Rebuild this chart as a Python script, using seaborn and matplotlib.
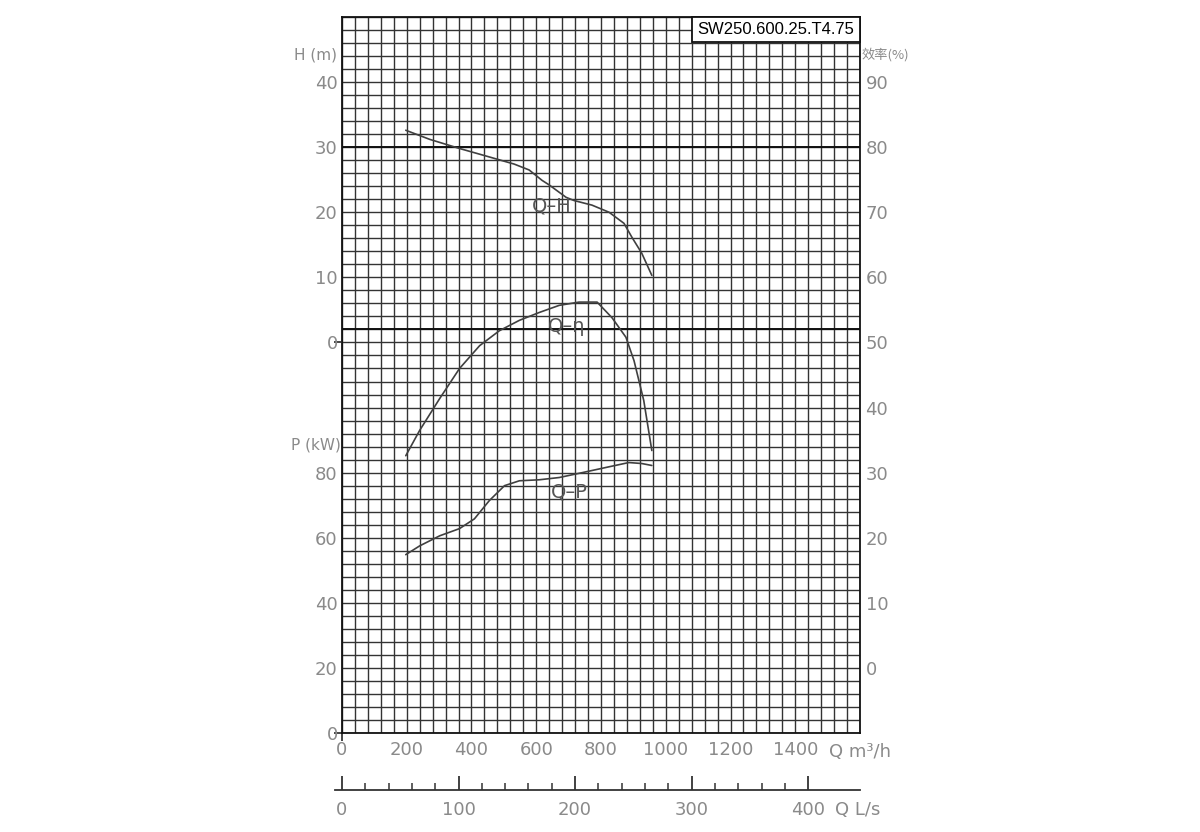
import numpy as np
import matplotlib
matplotlib.use('Agg')
import matplotlib.pyplot as plt
from matplotlib.patches import Rectangle
import seaborn as sns

# pump curve data (Q in m3/h)
flow_h = [197, 271, 363, 455, 532, 578, 618, 640, 692, 717, 772, 825, 871, 895, 926, 957]
head_m = [32.6, 31.2, 29.8, 28.5, 27.4, 26.5, 24.9, 24.2, 22.3, 21.8, 21.1, 20.0, 18.3, 16.2, 13.7, 10.3]

flow_eta = [197, 240, 302, 363, 425, 486, 548, 609, 671, 732, 788, 834, 877, 902, 932, 957]
eff_pct = [32.6, 36.5, 41.4, 46.0, 49.5, 51.8, 53.4, 54.6, 55.7, 56.2, 56.2, 53.8, 50.8, 47.2, 41.1, 33.4]

flow_p = [197, 240, 302, 363, 409, 455, 502, 548, 609, 671, 742, 825, 886, 926, 957]
power_kw = [54.8, 57.5, 60.6, 62.8, 65.8, 71.4, 76.0, 77.5, 77.8, 78.5, 80.0, 81.8, 83.1, 82.8, 82.2]

q_ticks = [0, 200, 400, 600, 800, 1000, 1200, 1400]
h_ticks = [0, 10, 20, 30, 40]
p_ticks = [0, 20, 40, 60, 80]
eta_ticks = [0, 10, 20, 30, 40, 50, 60, 70, 80, 90]
ls_ticks = [0, 100, 200, 300, 400]
model_name = 'SW250.600.25.T4.75'

sns.set_style('white')
plt.rcParams['font.family'] = ['DejaVu Sans', 'Noto Sans CJK SC']

label_grey = '#8a8a8a'
curve_col = '#404040'
grid_col = '#333333'

fig = plt.figure(figsize=(12, 8.32), dpi=100)
W, H = 1200, 832
ax = fig.add_axes([342 / W, (H - 733) / H, 518 / W, 716 / H])

# base axis = power, 0..220 kW (55 cells of 4 kW)
ax.set_xlim(0, 1600)
ax.set_ylim(0, 220)
ax.set_xticks(q_ticks)
ax.set_xticks(np.arange(0, 1601, 40), minor=True)
ax.set_yticks(p_ticks)
ax.set_yticks(np.arange(0, 221, 4), minor=True)
ax.grid(which='both', color=grid_col, lw=1.0)
ax.axhline(180, color='#111', lw=1.4)
ax.axhline(124, color='#111', lw=1.4)
for s in ax.spines.values():
    s.set_color('#111')
    s.set_linewidth(1.3)
ax.tick_params(which='both', length=0, left=True, bottom=True)
ax.tick_params(axis='y', labelsize=13, labelcolor=label_grey, pad=3)
ax.tick_params(axis='x', labelsize=13, labelcolor=label_grey, pad=6)

# head axis shares the left side, 0 m sits at 120 on the base scale
axh = ax.twinx()
axh.set_ylim(-60, 50)
axh.set_yticks(h_ticks)
axh.yaxis.set_ticks_position('left')
axh.tick_params(axis='y', length=0, labelsize=13, labelcolor=label_grey, pad=3)
for s in axh.spines.values():
    s.set_visible(False)

# efficiency axis on the right
axe = ax.twinx()
axe.set_ylim(-10, 100)
axe.set_yticks(eta_ticks)
axe.tick_params(axis='y', length=0, labelsize=13, labelcolor=label_grey, pad=4)
for s in axe.spines.values():
    s.set_visible(False)

# small ticks at the zero labels
for t in (ax.yaxis.get_major_ticks()[0], axh.yaxis.get_major_ticks()[0], ax.xaxis.get_major_ticks()[0]):
    t.tick1line.set_markersize(6)
    t.tick1line.set_markeredgewidth(1.2)
    t.tick1line.set_color('#555')

sns.lineplot(x=flow_h, y=head_m, ax=axh, color=curve_col, lw=1.2)
sns.lineplot(x=flow_eta, y=eff_pct, ax=axe, color=curve_col, lw=1.2)
sns.lineplot(x=flow_p, y=power_kw, ax=ax, color=curve_col, lw=1.2)
for a in (ax, axh, axe):
    a.set_xlabel('')
    a.set_ylabel('')

axh.text(649, 21, 'Q\u2013H', fontsize=14, color='#555', ha='center', va='center')
axe.text(695, 52.5, 'Q\u2013\u03b7', fontsize=14, color='#555', ha='center', va='center')
ax.text(702, 74, 'Q\u2013P', fontsize=14, color='#555', ha='center', va='center')

# model name box in the top right corner of the grid
x0 = (692 - 342) / 518
y0 = (733 - 42) / 716
axe.add_patch(Rectangle((x0, y0), 1 - x0, 1 - y0, transform=axe.transAxes,
                        fc='white', ec='#111', lw=1.3, zorder=9, clip_on=False))
axe.text((x0 + 1) / 2, (y0 + 1) / 2, model_name, transform=axe.transAxes, ha='center', va='center',
         fontsize=12, family='Liberation Sans', color='black', zorder=10)

fig.text(316 / W, 1 - 55 / H, 'H (m)', fontsize=11, color=label_grey, ha='center', va='center')
fig.text(316 / W, 1 - 445 / H, 'P (kW)', fontsize=11, color=label_grey, ha='center', va='center')
fig.text(885 / W, 1 - 55 / H, '效率(%)', fontsize=9.5, color=label_grey, ha='center', va='center',
         family=['Noto Sans CJK SC', 'DejaVu Sans'])
fig.text(860 / W, 1 - 752 / H, 'Q m\u00b3/h', fontsize=13, color=label_grey, ha='center', va='center')

# second flow scale in L/s
ax2 = fig.add_axes([335 / W, (H - 790) / H, 525 / W, 20 / H])
ax2.set_xlim(-6.0, 1600 / 3.6)
ax2.set_ylim(0, 1)
ax2.set_yticks([])
ax2.set_xticks(ls_ticks)
ax2.set_xticks(np.arange(0, 401, 20), minor=True)
ax2.patch.set_alpha(0)
for name, s in ax2.spines.items():
    s.set_visible(name == 'bottom')
ax2.spines['bottom'].set_color('#333')
ax2.spines['bottom'].set_linewidth(1.3)
ax2.tick_params(axis='x', which='both', bottom=True)
ax2.tick_params(axis='x', which='major', direction='in', length=10, width=1.3, color='#333',
                labelsize=13, labelcolor=label_grey, pad=8)
ax2.tick_params(axis='x', which='minor', direction='in', length=5, width=1.1, color='#333')
fig.text(858 / W, 1 - 810 / H, 'Q L/s', fontsize=13, color=label_grey, ha='center', va='center')

fig.savefig('out.png', dpi=100, facecolor='white')
